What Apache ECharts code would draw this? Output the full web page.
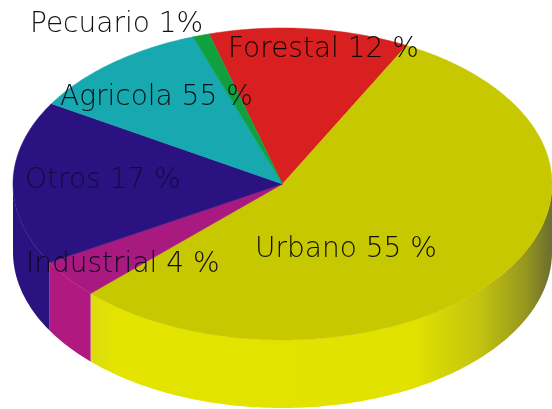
<!DOCTYPE html>
<html>
<head>
<meta charset="utf-8">
<script src="https://cdn.jsdelivr.net/npm/echarts@6/dist/echarts.min.js"></script>
<style>
  html, body { margin: 0; padding: 0; background: #fff; }
  #main { width: 552px; height: 409px; }
</style>
</head>
<body>
<div id="main"></div>
<script>
// slices go clockwise starting from Forestal
var categories = ['Forestal', 'Urbano', 'Industrial', 'Otros', 'Agricola', 'Pecuario'];
var sliceValues = [12, 55, 4, 17, 11, 1];
// the picture prints 55 % on Agricola although its slice is about 11 %
var printedLabels = ['Forestal 12 %', 'Urbano 55 %', 'Industrial 4 %', 'Otros 17 %', 'Agricola 55 %', 'Pecuario 1%'];

var topColors = ['#d82020', '#c8c800', '#a81a80', '#2a1280', '#18a8b0', '#10a040'];
var wallColors = ['#d82020', '#e4e400', '#b01a80', '#2a1280', '#18a8b0', '#10a040'];
var labelSpots = [[228, 47], [255, 247], [26, 262], [25, 178], [60, 95], [30, 22]];
var labelFills = ['#100808', '#101004', '#100820', '#120c40', '#061418', '#101010'];

var startAngle = -15.8;
var depth = 0.436;
var total = sliceValues.reduce(function (a, b) { return a + b; }, 0);

var urbanoWall = new echarts.graphic.LinearGradient(0, 0, 1, 0, [
  { offset: 0, color: '#dcdc10' },
  { offset: 0.06, color: '#e4e400' },
  { offset: 0.7, color: '#e2e200' },
  { offset: 0.84, color: '#c4c410' },
  { offset: 0.94, color: '#98981e' },
  { offset: 1, color: '#6c6c30' }
]);

function rimPoint(api, deg, drop) {
  var r = deg * Math.PI / 180;
  return api.coord([Math.sin(r), Math.cos(r) - drop]);
}

function drawSlice(params, api) {
  var i = params.dataIndex;
  var before = 0;
  for (var k = 0; k < i; k++) before += sliceValues[k];
  var from = startAngle + before / total * 360;
  var to = from + sliceValues[i] / total * 360;
  var children = [];

  // outer wall, only the front half of the rim shows
  var wallFrom = Math.max(from, 90);
  var wallTo = Math.min(to, 270);
  if (wallTo > wallFrom) {
    var wall = [];
    var a;
    for (a = wallFrom; a < wallTo; a += 1) wall.push(rimPoint(api, a, 0));
    wall.push(rimPoint(api, wallTo, 0));
    for (a = wallTo; a > wallFrom; a -= 1) wall.push(rimPoint(api, a, depth));
    wall.push(rimPoint(api, wallFrom, depth));
    children.push({
      type: 'polygon',
      shape: { points: wall },
      style: { fill: categories[i] === 'Urbano' ? urbanoWall : wallColors[i] }
    });
  }

  // top face
  var face = [api.coord([0, 0])];
  for (var b = from; b < to; b += 1) face.push(rimPoint(api, b, 0));
  face.push(rimPoint(api, to, 0));
  children.push({
    type: 'polygon',
    shape: { points: face },
    style: { fill: topColors[i], stroke: topColors[i], lineWidth: 0.5 }
  });

  return { type: 'group', children: children };
}

var myChart = echarts.init(document.getElementById('main'));
myChart.setOption({
  animation: false,
  backgroundColor: '#fff',
  grid: { left: 13, top: 28, width: 540, height: 380 },
  xAxis: { type: 'value', min: -1, max: 1, show: false },
  yAxis: { type: 'value', min: -1 - depth, max: 1, show: false },
  series: [
    {
      type: 'custom',
      coordinateSystem: 'cartesian2d',
      clip: false,
      silent: true,
      data: sliceValues.map(function (v, i) { return [i, v]; }),
      renderItem: drawSlice
    }
  ],
  graphic: printedLabels.map(function (text, i) {
    return {
      type: 'text',
      silent: true,
      z: 10,
      left: labelSpots[i][0],
      top: labelSpots[i][1] - 11,
      style: {
        text: text,
        fill: labelFills[i],
        font: '200 28px "DejaVu Sans", sans-serif'
      }
    };
  })
});
</script>
</body>
</html>
